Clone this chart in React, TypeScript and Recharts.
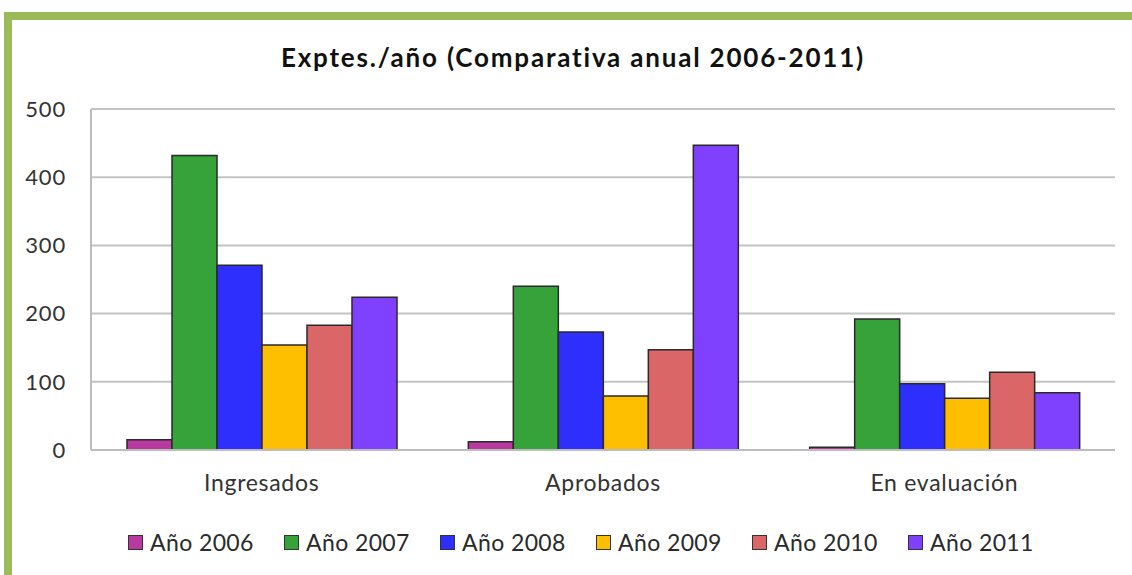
import { Bar, BarChart, CartesianGrid, Legend, XAxis, YAxis } from "recharts";

const categories = ["Ingresados", "Aprobados", "En evaluación"];

const year2006 = [15, 12, 4];
const year2007 = [432, 240, 192];
const year2008 = [271, 173, 97];
const year2009 = [154, 79, 76];
const year2010 = [183, 147, 114];
const year2011 = [224, 447, 84];

const yTicks = [0, 100, 200, 300, 400, 500];

const series = [
  { key: "a2006", name: "Año 2006", values: year2006, color: "#b8399f" },
  { key: "a2007", name: "Año 2007", values: year2007, color: "#36a33a" },
  { key: "a2008", name: "Año 2008", values: year2008, color: "#2e2efd" },
  { key: "a2009", name: "Año 2009", values: year2009, color: "#febf00" },
  { key: "a2010", name: "Año 2010", values: year2010, color: "#db6667" },
  { key: "a2011", name: "Año 2011", values: year2011, color: "#8041fe" }
];

const data = categories.map((name, i) => {
  const row: Record<string, string | number> = { name };
  series.forEach((s) => {
    row[s.key] = s.values[i];
  });
  return row;
});

const font = "Lato, 'Open Sans', sans-serif";

function LegendRow({ payload }: { payload?: any[] }) {
  return (
    <div
      style={{
        display: "flex",
        paddingLeft: 128,
        paddingTop: 20,
        fontFamily: font,
        fontSize: 23,
        letterSpacing: 0.4,
        color: "#2a2a2a"
      }}
    >
      {(payload || []).map((entry) => (
        <div key={entry.value} style={{ display: "flex", alignItems: "center", width: 156 }}>
          <span
            style={{
              display: "inline-block",
              width: 13,
              height: 13,
              background: entry.color,
              border: "1.5px solid #333",
              marginRight: 7
            }}
          />
          <span>{entry.value}</span>
        </div>
      ))}
    </div>
  );
}

export default function App() {
  return (
    <div style={{ position: "absolute", left: 0, top: 0, width: 1132, height: 575, background: "#fff", overflow: "hidden" }}>
      <div style={{ position: "absolute", left: 4, top: 12, width: 1128, height: 8, background: "#9bbb59" }} />
      <div style={{ position: "absolute", left: 4, top: 12, width: 8, height: 563, background: "#9bbb59" }} />
      <div
        style={{
          position: "absolute",
          left: 0,
          width: 1146,
          top: 41,
          textAlign: "center",
          fontFamily: font,
          fontWeight: 700,
          fontSize: 26,
          letterSpacing: 1.8,
          color: "#111"
        }}
      >
        Exptes./año (Comparativa anual 2006-2011)
      </div>
      <BarChart
        width={1132}
        height={575}
        data={data}
        margin={{ top: 109, right: 17, bottom: 0, left: 0 }}
        barCategoryGap={36}
        barGap={0}
        style={{ position: "absolute", left: 0, top: 0 }}
      >
        <CartesianGrid vertical={false} stroke="#c4c4c4" strokeWidth={2} />
        <XAxis
          dataKey="name"
          axisLine={{ stroke: "#bdbdbd", strokeWidth: 2 }}
          tickLine={false}
          tickSize={0}
          tickMargin={25}
          height={58}
          tick={{ fontFamily: font, fontSize: 23, fill: "#333", letterSpacing: 0.7 }}
        />
        <YAxis
          domain={[0, 500]}
          ticks={yTicks}
          width={91}
          axisLine={{ stroke: "#bdbdbd", strokeWidth: 2 }}
          tickLine={false}
          tickSize={0}
          tickMargin={25}
          tick={{ fontFamily: font, fontSize: 22, fill: "#333", letterSpacing: 0.8 }}
        />
        <Legend verticalAlign="bottom" height={67} content={<LegendRow />} />
        {series.map((s) => (
          <Bar
            key={s.key}
            dataKey={s.key}
            name={s.name}
            fill={s.color}
            stroke="#2a2a2a"
            strokeWidth={1.5}
            isAnimationActive={false}
          />
        ))}
      </BarChart>
    </div>
  );
}
